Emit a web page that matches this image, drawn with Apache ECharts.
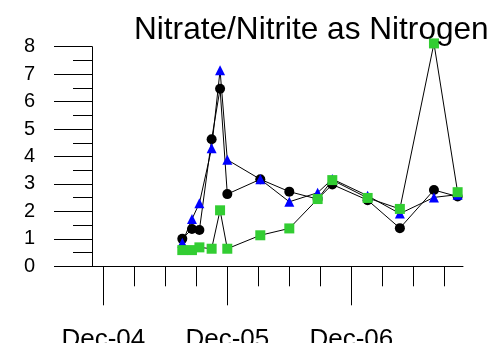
<!DOCTYPE html>
<html>
<head>
<meta charset="utf-8">
<script src="https://cdn.jsdelivr.net/npm/echarts@6/dist/echarts.min.js"></script>
<style>
html,body{margin:0;padding:0;background:#fff;}
#c{width:498px;height:343px;}
</style>
</head>
<body>
<div id="c"></div>
<script>
// Sample dates
var sampleDates = ['2005-07-21','2005-08-19','2005-09-10','2005-10-16','2005-11-10','2005-12-01','2006-03-07','2006-06-01','2006-08-24','2006-10-06','2007-01-19','2007-04-22','2007-08-01','2007-10-10'];
// Series values (mg/L)
var blackSeries = [1.00,1.36,1.32,4.63,6.47,2.63,3.17,2.72,2.45,2.98,2.41,1.39,2.78,2.54];
var blueSeries  = [0.86,1.72,2.30,4.30,7.14,3.88,3.17,2.35,2.68,3.18,2.57,1.92,2.51,2.61];
var greenSeries = [0.59,0.59,0.69,0.64,2.04,0.64,1.13,1.38,2.45,3.14,2.49,2.09,8.12,2.70];
// X tick labels (months after Dec-04)
var xLabelValues = [0,12,24];
var xLabels = ['Dec-04','Dec-05','Dec-06'];
var xQuarterTicks = [0,3,6,9,12,15,18,21,24,27,30,33];

function monthIndex(s){
  var p = s.split('-').map(Number);
  var dim = new Date(p[0], p[1], 0).getDate();
  return (p[0]-2004)*12 + (p[1]-12) + (p[2]-1)/dim;
}
function pairs(vals){
  return vals.map(function(v,i){ return [monthIndex(sampleDates[i]), v]; });
}
var XMIN = -1.094, XMAX = 34.81;
var FONT = 'Liberation Sans, Arial, sans-serif';

var chart = echarts.init(document.getElementById('c'), null, {renderer:'canvas'});
chart.setOption({
  animation: false,
  backgroundColor: '#fff',
  title: {
    text: 'Nitrate/Nitrite as Nitrogen',
    left: 129, top: 9,
    textStyle: {fontFamily: FONT, fontSize: 31.6, fontWeight: 'normal', color: '#000'}
  },
  grid: {left: 92, right: 35, top: 46.7, bottom: 76.7, containLabel: false, outerBoundsMode: 'none'},
  xAxis: [{
    type: 'value', position: 'bottom', min: XMIN, max: XMAX,
    axisLine: {show: true, onZero: false, lineStyle: {color: '#000', width: 1}},
    axisTick: {show: true, customValues: xQuarterTicks, length: 20, lineStyle: {color: '#000', width: 1}},
    axisLabel: {show: false},
    splitLine: {show: false}
  },{
    type: 'value', position: 'bottom', min: XMIN, max: XMAX,
    axisLine: {show: false, onZero: false},
    axisTick: {show: true, customValues: xLabelValues, length: 39, lineStyle: {color: '#000', width: 1}},
    axisLabel: {show: true, customValues: xLabelValues, margin: 61, fontFamily: FONT, fontSize: 26, color: '#000',
      formatter: function(v){ var i = xLabelValues.indexOf(Math.round(v)); return i >= 0 ? xLabels[i] : ''; }},
    splitLine: {show: false}
  }],
  yAxis: {
    type: 'value', min: 0, max: 8, interval: 1,
    axisLine: {show: true, onZero: false, lineStyle: {color: '#000', width: 1}},
    axisTick: {show: true, length: 38, lineStyle: {color: '#000', width: 1}},
    minorTick: {show: true, splitNumber: 2, length: 19, lineStyle: {color: '#000', width: 1}},
    axisLabel: {fontFamily: FONT, fontSize: 20, color: '#000', margin: 57},
    splitLine: {show: false},
    minorSplitLine: {show: false}
  },
  series: [{
    type: 'line', name: 'A', data: pairs(blackSeries), symbol: 'circle', symbolSize: 10, clip: false,
    lineStyle: {color: '#000', width: 1}, itemStyle: {color: '#000'}
  },{
    type: 'line', name: 'B', data: pairs(blueSeries), symbol: 'triangle', symbolSize: 10, clip: false,
    lineStyle: {color: '#000', width: 1}, itemStyle: {color: '#0000ff'}
  },{
    type: 'line', name: 'C', data: pairs(greenSeries), symbol: 'rect', symbolSize: 10, clip: false,
    lineStyle: {color: '#000', width: 1}, itemStyle: {color: '#32cd32'}
  }]
});
</script>
</body>
</html>
